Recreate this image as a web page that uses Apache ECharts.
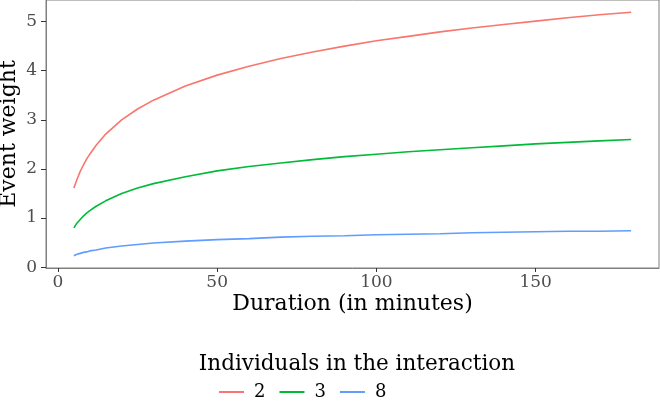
<!DOCTYPE html>
<html>
<head>
<meta charset="utf-8">
<script src="https://cdn.jsdelivr.net/npm/echarts@6/dist/echarts.min.js"></script>
<style>html,body{margin:0;padding:0;background:#fff}#c{width:660px;height:401px}</style>
</head>
<body>
<div id="c"></div>
<script>
var durations = [5,6,7,8,9,10,12,15,20,25,30,40,50,60,70,80,90,100,110,120,130,140,150,160,170,180];
var weight2 = [1.61,1.79,1.95,2.08,2.20,2.30,2.48,2.71,3.00,3.22,3.40,3.69,3.91,4.09,4.25,4.38,4.50,4.61,4.70,4.79,4.87,4.94,5.01,5.08,5.14,5.19];
var weight3 = [0.80,0.90,0.97,1.04,1.10,1.15,1.24,1.35,1.50,1.61,1.70,1.84,1.96,2.05,2.12,2.19,2.25,2.30,2.35,2.39,2.43,2.47,2.51,2.54,2.57,2.60];
var weight8 = [0.23,0.26,0.28,0.30,0.31,0.33,0.35,0.39,0.43,0.46,0.49,0.53,0.56,0.58,0.61,0.63,0.64,0.66,0.67,0.68,0.70,0.71,0.72,0.73,0.73,0.74];
var groups = ['2','3','8'];
var colors = ['#F8766D','#00BA38','#619CFF'];
var xTicks = [0,50,100,150];
var yTicks = [0,1,2,3,4,5];

function pairs(ys){ return durations.map(function(d,i){ return [d, ys[i]]; }); }
var seriesData = [weight2, weight3, weight8];
var FONT = 'DejaVu Serif';

var chart = echarts.init(document.getElementById('c'), null, {renderer:'canvas'});
chart.setOption({
  animation: false,
  textStyle: {fontFamily: FONT},
  title: {
    text: 'Individuals in the interaction',
    left: 352, top: 348, textAlign: 'center',
    textStyle: {fontFamily: FONT, fontSize: 21.5, fontWeight: 'normal', color: '#000'}
  },
  legend: {
    left: 214, top: 378,
    data: groups,
    icon: 'rect', itemWidth: 25, itemHeight: 2, itemGap: 14,
    textStyle: {fontFamily: FONT, fontSize: 18, color: '#000', padding: [0,0,0,5]}
  },
  grid: {left: 46, right: 1, top: 0, bottom: 133, show: true, borderColor: '#7f7f7f', borderWidth: 1, containLabel: false, outerBoundsMode: 'none'},
  xAxis: {
    type: 'value', min: -3.75, max: 188.75,
    name: 'Duration (in minutes)', nameLocation: 'middle', nameGap: 25, nameMoveOverlap: false,
    nameTextStyle: {fontFamily: FONT, fontSize: 22, color: '#000', verticalAlign: 'top'},
    axisLine: {show: true, onZero: false, lineStyle: {color: '#7f7f7f', width: 1}},
    axisTick: {show: true, inside: false, length: 4, lineStyle: {color: '#333'}, customValues: xTicks},
    axisLabel: {fontFamily: FONT, fontSize: 17, color: '#4d4d4d', margin: 6, customValues: xTicks},
    splitLine: {show: false}
  },
  yAxis: {
    type: 'value', min: -0.018, max: 5.44,
    name: 'Event weight', nameLocation: 'middle', nameGap: 26, nameMoveOverlap: false,
    nameTextStyle: {fontFamily: FONT, fontSize: 22, color: '#000'},
    axisLine: {show: true, onZero: false, lineStyle: {color: '#7f7f7f', width: 1}},
    axisTick: {show: true, inside: false, length: 5, lineStyle: {color: '#333'}, customValues: yTicks},
    axisLabel: {fontFamily: FONT, fontSize: 17, color: '#4d4d4d', margin: 9, customValues: yTicks},
    splitLine: {show: false}
  },
  series: groups.map(function(g,i){
    return {name: g, type: 'line', data: pairs(seriesData[i]), showSymbol: false, symbol: 'none',
      lineStyle: {color: colors[i], width: 1.6}, itemStyle: {color: colors[i]}};
  })
});
</script>
</body>
</html>
